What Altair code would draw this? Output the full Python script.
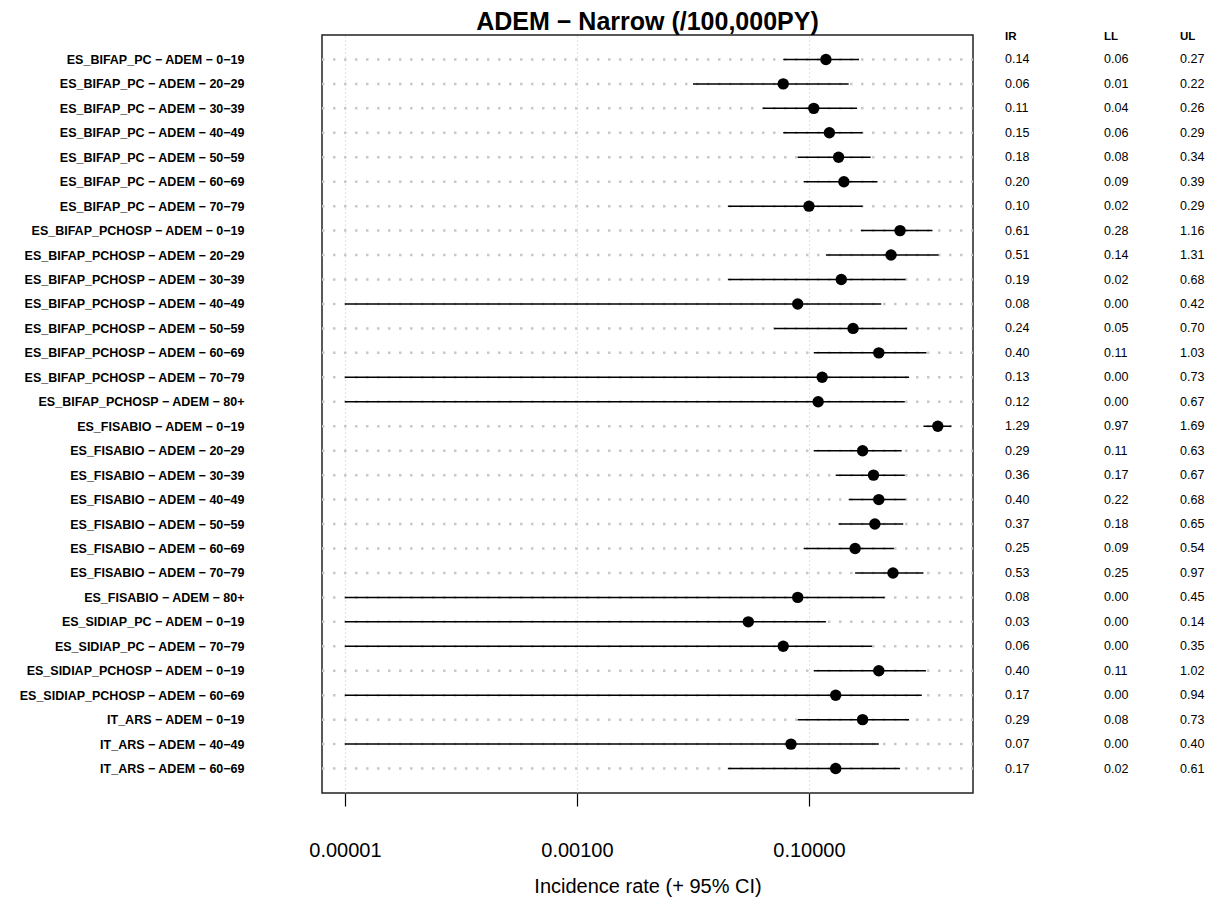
import altair as alt
import pandas as pd

labels = [
    "ES_BIFAP_PC − ADEM − 0−19", "ES_BIFAP_PC − ADEM − 20−29", "ES_BIFAP_PC − ADEM − 30−39",
    "ES_BIFAP_PC − ADEM − 40−49", "ES_BIFAP_PC − ADEM − 50−59", "ES_BIFAP_PC − ADEM − 60−69",
    "ES_BIFAP_PC − ADEM − 70−79",
    "ES_BIFAP_PCHOSP − ADEM − 0−19", "ES_BIFAP_PCHOSP − ADEM − 20−29", "ES_BIFAP_PCHOSP − ADEM − 30−39",
    "ES_BIFAP_PCHOSP − ADEM − 40−49", "ES_BIFAP_PCHOSP − ADEM − 50−59", "ES_BIFAP_PCHOSP − ADEM − 60−69",
    "ES_BIFAP_PCHOSP − ADEM − 70−79", "ES_BIFAP_PCHOSP − ADEM − 80+",
    "ES_FISABIO − ADEM − 0−19", "ES_FISABIO − ADEM − 20−29", "ES_FISABIO − ADEM − 30−39",
    "ES_FISABIO − ADEM − 40−49", "ES_FISABIO − ADEM − 50−59", "ES_FISABIO − ADEM − 60−69",
    "ES_FISABIO − ADEM − 70−79", "ES_FISABIO − ADEM − 80+",
    "ES_SIDIAP_PC − ADEM − 0−19", "ES_SIDIAP_PC − ADEM − 70−79",
    "ES_SIDIAP_PCHOSP − ADEM − 0−19", "ES_SIDIAP_PCHOSP − ADEM − 60−69",
    "IT_ARS − ADEM − 0−19", "IT_ARS − ADEM − 40−49", "IT_ARS − ADEM − 60−69",
]
ir = [0.14, 0.06, 0.11, 0.15, 0.18, 0.20, 0.10,
      0.61, 0.51, 0.19, 0.08, 0.24, 0.40, 0.13, 0.12,
      1.29, 0.29, 0.36, 0.40, 0.37, 0.25, 0.53, 0.08,
      0.03, 0.06,
      0.40, 0.17,
      0.29, 0.07, 0.17]
ll = [0.06, 0.01, 0.04, 0.06, 0.08, 0.09, 0.02,
      0.28, 0.14, 0.02, 0.00, 0.05, 0.11, 0.00, 0.00,
      0.97, 0.11, 0.17, 0.22, 0.18, 0.09, 0.25, 0.00,
      0.00, 0.00,
      0.11, 0.00,
      0.08, 0.00, 0.02]
ul = [0.27, 0.22, 0.26, 0.29, 0.34, 0.39, 0.29,
      1.16, 1.31, 0.68, 0.42, 0.70, 1.03, 0.73, 0.67,
      1.69, 0.63, 0.67, 0.68, 0.65, 0.54, 0.97, 0.45,
      0.14, 0.35,
      1.02, 0.94,
      0.73, 0.40, 0.61]
x_ticks = [0.00001, 0.001, 0.1]
x_domain = [6.34e-6, 2.595]
headers = ["IR", "LL", "UL"]

df = pd.DataFrame({"label": labels, "IR": ir, "LL": ll, "UL": ul})

W, H = 651, 758
FONT = "Liberation Sans"

xscale = alt.Scale(type="log", domain=x_domain, nice=False)
xaxis = alt.Axis(
    values=x_ticks, format=".5f", title="Incidence rate (+ 95% CI)",
    grid=True, gridDash=[1, 3], gridColor="#c4c4c4", gridWidth=1,
    domain=False, ticks=True, tickSize=13, tickColor="black", tickWidth=1.2,
    labelFontSize=20, labelFont=FONT, labelColor="black", labelPadding=34,
    titleFontSize=20, titleFont=FONT, titleFontWeight="normal", titleColor="black",
    titlePadding=16, labelFlush=False,
)
Y = alt.Y(
    "label:N", sort=labels, scale=alt.Scale(type="point", padding=1),
    axis=alt.Axis(title=None, ticks=False, domain=False, grid=False,
                  labelFontSize=12.5, labelFont=FONT, labelFontWeight="bold",
                  labelColor="black", labelPadding=78, labelLimit=500),
)

base = alt.Chart(df)

rows = base.mark_rule(color="#c8c8c8", strokeWidth=2.5, strokeDash=[2.5, 8.5]).encode(
    y=Y, x=alt.value(0), x2=alt.value(W)
)
ci = base.transform_calculate(LLp="max(datum.LL, 0.00001)").mark_rule(
    color="black", strokeWidth=1.5
).encode(
    x=alt.X("LLp:Q", scale=xscale, axis=xaxis), x2="UL:Q", y=Y
)
pts = base.mark_circle(color="black", opacity=1, size=130).encode(
    x=alt.X("IR:Q", scale=xscale, axis=xaxis), y=Y
)

col_x = {"IR": W + 32, "LL": W + 131, "UL": W + 207}
text_layers = []
for col in headers:
    text_layers.append(
        base.mark_text(align="left", baseline="middle", fontSize=12.5, font=FONT, color="black").encode(
            y=Y, x=alt.value(col_x[col]), text=alt.Text(f"{col}:Q", format=".2f")
        )
    )
    text_layers.append(
        alt.Chart(pd.DataFrame({"h": [col]})).mark_text(
            align="left", baseline="middle", fontSize=11.5, font=FONT, fontWeight="bold", color="black"
        ).encode(x=alt.value(col_x[col]), y=alt.value(2), text="h:N")
    )

chart = alt.layer(rows, ci, pts, *text_layers).properties(
    width=W, height=H,
    title=alt.TitleParams("ADEM − Narrow (/100,000PY)", fontSize=25, font=FONT,
                          fontWeight="bold", anchor="middle", frame="group",
                          offset=3, dy=7, color="black"),
    autosize=alt.AutoSizeParams(type="none"),
    padding={"left": 322, "top": 35, "right": 238, "bottom": 104},
).configure(
    background="white",
    view=alt.ViewConfig(stroke="#222222", strokeWidth=1.5),
)

chart.save("out.html", embed_options={"renderer": "svg", "actions": False})
